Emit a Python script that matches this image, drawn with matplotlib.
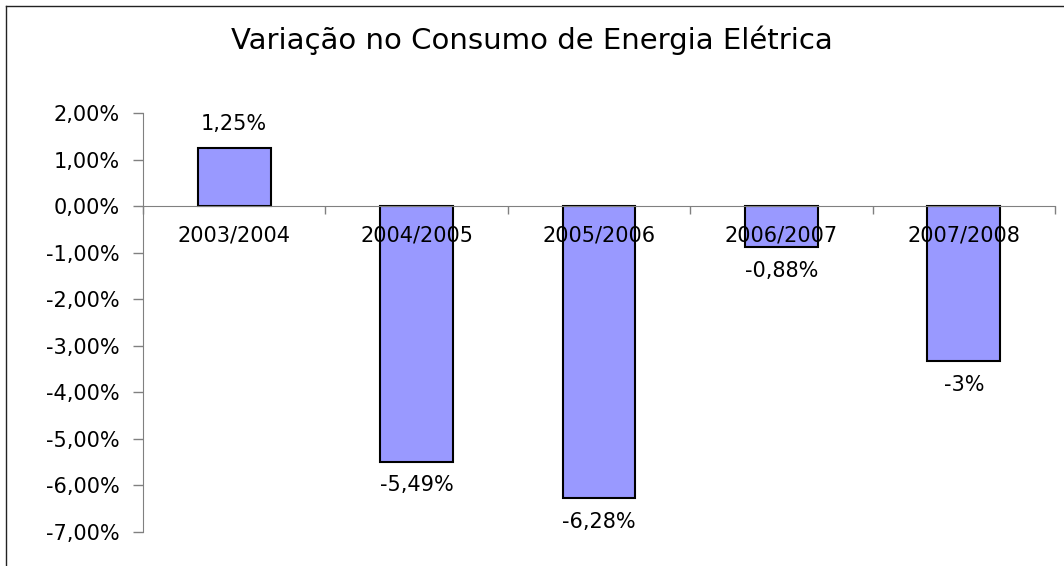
import matplotlib
matplotlib.use("Agg")
import matplotlib.pyplot as plt
from matplotlib.lines import Line2D

# Dados do gráfico
categorias = ["2003/2004", "2004/2005", "2005/2006", "2006/2007", "2007/2008"]
variacao = [1.25, -5.49, -6.28, -0.88, -3.33]
rotulos = ["1,25%", "-5,49%", "-6,28%", "-0,88%", "-3%"]
yticks = [2, 1, 0, -1, -2, -3, -4, -5, -6, -7]
ytick_labels = ["2,00%", "1,00%", "0,00%", "-1,00%", "-2,00%", "-3,00%",
                "-4,00%", "-5,00%", "-6,00%", "-7,00%"]

plt.rcParams['font.family'] = ['DejaVu Sans']
fs = 15

fig = plt.figure(figsize=(10.64, 5.66), dpi=100)
ax = fig.add_axes([0.1344, 0.0601, 0.8571, 0.7403])

x = list(range(len(categorias)))
ax.bar(x, variacao, width=0.4, color='#9999FF', edgecolor='black',
       linewidth=1.5, zorder=1)

ax.set_xlim(-0.5, len(categorias) - 0.5)
ax.set_ylim(-7, 2)

# eixo y
ax.set_yticks(yticks)
ax.set_yticklabels(ytick_labels, fontsize=fs)
ax.tick_params(axis='y', direction='out', length=7, width=1, color='#808080', pad=10)

# eixo x na linha do zero
ax.spines['bottom'].set_position(('data', 0))
ax.spines['bottom'].set_color('#808080')
ax.spines['left'].set_color('#808080')
ax.spines['top'].set_visible(False)
ax.spines['right'].set_visible(False)
ax.set_xticks([i - 0.5 for i in range(len(categorias) + 1)])
ax.set_xticklabels([])
ax.set_xticks(x, minor=True)
ax.set_xticklabels(categorias, minor=True, fontsize=fs)
ax.tick_params(axis='x', which='major', direction='out', length=6, width=1, color='#808080')
ax.tick_params(axis='x', which='minor', length=0, pad=14)

# rótulos de dados
for xi, v, r in zip(x, variacao, rotulos):
    off = 17 if v > 0 else -17
    ax.annotate(r, (xi, v), xytext=(0, off), textcoords='offset points',
                ha='center', va='center', fontsize=fs)

fig.suptitle("Variação no Consumo de Energia Elétrica", x=0.5, y=0.929,
             fontsize=21, va='center')

# moldura (só topo e esquerda aparecem)
fig.add_artist(Line2D([6 / 1064, 6 / 1064], [0, 1 - 6 / 566], color='#222222', lw=1))
fig.add_artist(Line2D([6 / 1064, 1], [1 - 6 / 566, 1 - 6 / 566], color='#222222', lw=1))

plt.savefig("out.png", dpi=100)
